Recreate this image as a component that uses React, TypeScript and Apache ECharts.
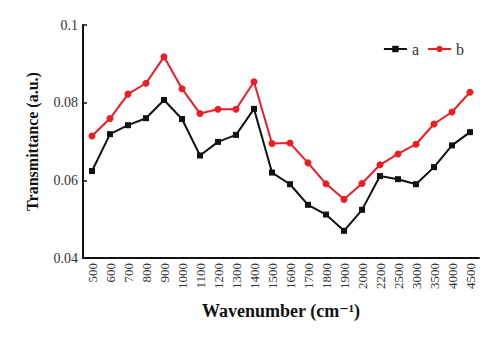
import React, { useEffect, useRef } from "react";
import * as echarts from "echarts";

const categories = ["500", "600", "700", "800", "900", "1000", "1100", "1200", "1300", "1400", "1500", "1600", "1700", "1800", "1900", "2000", "2200", "2500", "3000", "3500", "4000", "4500"];
const seriesA = [0.0624, 0.0719, 0.0742, 0.0760, 0.0807, 0.0758, 0.0664, 0.0699, 0.0717, 0.0784, 0.0620, 0.0590, 0.0537, 0.0512, 0.0470, 0.0524, 0.0611, 0.0603, 0.0590, 0.0634, 0.0690, 0.0724];
const seriesB = [0.0714, 0.0759, 0.0822, 0.0850, 0.0918, 0.0836, 0.0772, 0.0783, 0.0783, 0.0854, 0.0695, 0.0696, 0.0645, 0.0591, 0.0551, 0.0592, 0.0640, 0.0668, 0.0693, 0.0745, 0.0776, 0.0827];

const FONT = "'Liberation Serif', 'DejaVu Serif', serif";

export default function App() {
  const ref = useRef<HTMLDivElement>(null);
  useEffect(() => {
    if (!ref.current) return;
    const chart = echarts.init(ref.current, null, { renderer: "svg" });
    chart.setOption({
      animation: false,
      backgroundColor: "#ffffff",
      grid: { left: 83, right: 21, top: 25, bottom: 80 },
      legend: {
        top: 36,
        right: 31,
        itemWidth: 23,
        itemHeight: 8,
        itemGap: 8,
        textStyle: { fontFamily: FONT, fontSize: 16, color: "#333" },
        data: ["a", "b"],
      },
      xAxis: {
        type: "category",
        data: categories,
        boundaryGap: true,
        name: "Wavenumber (cm⁻¹)",
        nameLocation: "middle",
        nameGap: 44,
        nameTextStyle: { fontFamily: FONT, fontSize: 18, fontWeight: "bold", color: "#111" },
        axisLine: { lineStyle: { color: "#111", width: 2 } },
        axisTick: { inside: true, length: 4, lineStyle: { color: "#111", width: 1.5 } },
        axisLabel: { rotate: 90, fontFamily: FONT, fontSize: 13, color: "#333", margin: 5, interval: 0 },
        splitLine: { show: false },
      },
      yAxis: {
        type: "value",
        min: 0.04,
        max: 0.1,
        interval: 0.02,
        name: "Transmittance (a.u.)",
        nameLocation: "middle",
        nameGap: 43,
        nameTextStyle: { fontFamily: FONT, fontSize: 16, fontWeight: "bold", color: "#111" },
        axisLine: { show: true, lineStyle: { color: "#111", width: 2 } },
        axisTick: { show: true, inside: true, length: 4, lineStyle: { color: "#111", width: 1.5 } },
        axisLabel: {
          fontFamily: FONT,
          fontSize: 14,
          color: "#333",
          margin: 5,
          formatter: (v: number) => String(parseFloat(v.toFixed(4))),
        },
        splitLine: { show: false },
      },
      series: [
        {
          name: "a",
          type: "line",
          data: seriesA,
          symbol: "rect",
          symbolSize: 6,
          lineStyle: { color: "#111", width: 2 },
          itemStyle: { color: "#111" },
        },
        {
          name: "b",
          type: "line",
          data: seriesB,
          symbol: "circle",
          symbolSize: 7,
          lineStyle: { color: "#ee1c25", width: 2 },
          itemStyle: { color: "#ee1c25" },
        },
      ],
    });
    return () => chart.dispose();
  }, []);
  return <div ref={ref} style={{ width: 500, height: 338, position: "absolute", left: 0, top: 0 }} />;
}
